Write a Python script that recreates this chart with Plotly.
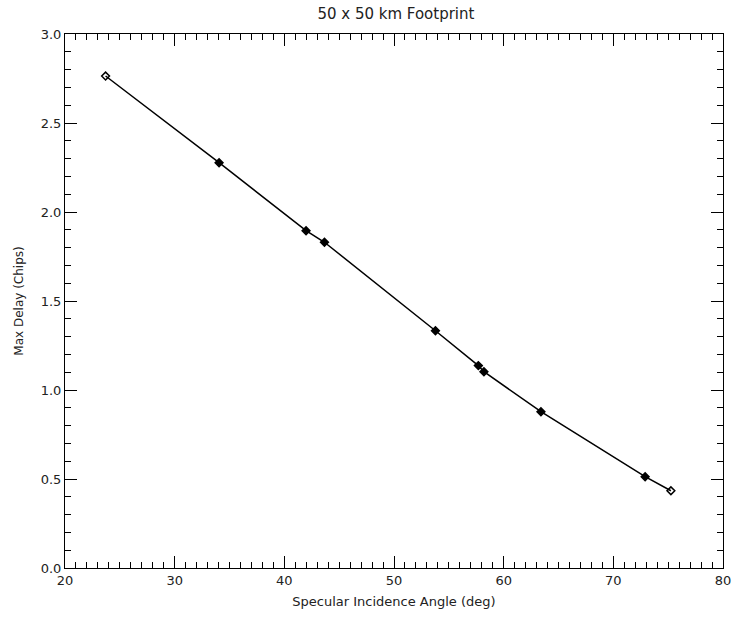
import plotly.graph_objects as go

angle = [23.7, 34.05, 41.98, 43.66, 53.78, 57.69, 58.2, 63.4, 72.9, 75.25]
delay = [2.764, 2.277, 1.895, 1.83, 1.333, 1.137, 1.103, 0.878, 0.513, 0.434]
symbols = ["diamond-open"] + ["diamond"] * 8 + ["diamond-open"]

fig = go.Figure()
fig.add_trace(go.Scatter(
    x=angle, y=delay, mode="lines+markers",
    line=dict(color="black", width=1.5),
    marker=dict(symbol=symbols, size=6, color="black",
                line=dict(color="black", width=1.5)),
    showlegend=False,
))

font = dict(family="DejaVu Sans", size=13, color="#222")
axis_common = dict(
    showgrid=False, zeroline=False, showline=True, linecolor="black",
    linewidth=1, mirror="allticks", ticks="inside", tickcolor="black",
    tickfont=font,
)
fig.update_layout(
    width=740, height=618,
    margin=dict(l=65, r=9, t=34, b=50),
    plot_bgcolor="white", paper_bgcolor="white",
    title=dict(text="50 x 50 km Footprint", x=0.535, xanchor="center",
               y=0.977, yanchor="middle",
               font=dict(family="DejaVu Sans", size=15, color="#222")),
    xaxis=dict(range=[20, 80], dtick=10, tick0=20, ticklen=12,
               minor=dict(ticks="inside", dtick=1, ticklen=6, tickcolor="black"),
               title=dict(text="Specular Incidence Angle (deg)",
                          font=dict(family="DejaVu Sans", size=13, color="#222"),
                          standoff=10),
               **axis_common),
    yaxis=dict(range=[0, 3.0], dtick=0.5, tick0=0, ticklen=12,
               tickformat=".1f",
               minor=dict(ticks="inside", dtick=0.1, ticklen=6, tickcolor="black"),
               title=dict(text="Max Delay (Chips)",
                          font=dict(family="DejaVu Sans", size=12, color="#222"),
                          standoff=14),
               **axis_common),
)
fig.write_html("out.html")
